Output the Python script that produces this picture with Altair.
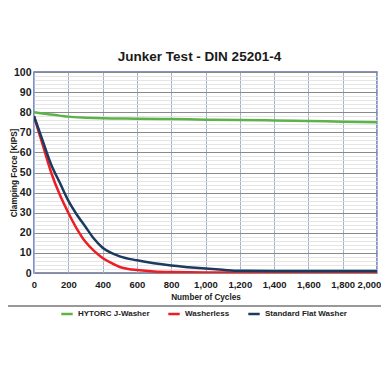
import altair as alt
import pandas as pd

series_names = ["HYTORC J-Washer", "Washerless", "Standard Flat Washer"]
series_colors = ["#5cb346", "#ee1c24", "#1b3a5e"]

green_x = [0, 50, 100, 150, 200, 300, 400, 600, 800, 1000, 1200, 1400, 1600, 1800, 2000]
green_y = [80, 79.3, 78.8, 78.3, 77.8, 77.3, 77.0, 76.8, 76.6, 76.3, 76.1, 75.9, 75.6, 75.3, 75.0]

red_x = [0, 25, 50, 100, 150, 200, 250, 300, 350, 400, 450, 500, 550, 600, 700, 800, 1000, 1200, 2000]
red_y = [78, 71, 64, 50, 39, 30, 22, 15.5, 11, 7.5, 5, 3, 2, 1.5, 0.8, 0.5, 0.3, 0.3, 0.3]

blue_x = [0, 25, 50, 100, 150, 200, 250, 300, 350, 400, 450, 500, 600, 700, 800, 900, 1000, 1100, 1200, 1400, 2000]
blue_y = [78, 72, 66, 54, 45, 36, 29, 23, 17, 12.6, 10, 8.3, 6.3, 4.8, 3.7, 2.9, 2.2, 1.6, 1.1, 1.0, 1.0]

rows = []
for name, xs, ys in zip(series_names, [green_x, red_x, blue_x], [green_y, red_y, blue_y]):
    for x, y in zip(xs, ys):
        rows.append({"series": name, "cycles": x, "force": y})
df = pd.DataFrame(rows)

x_ticks = list(range(0, 2001, 200))
y_ticks = list(range(0, 101, 2))

FONT = "Liberation Sans, Arial, sans-serif"

lines = alt.Chart(df).mark_line(strokeWidth=2.5, interpolate="monotone", clip=True).encode(
    x=alt.X("cycles:Q", scale=alt.Scale(domain=[0, 2000], nice=False),
            axis=alt.Axis(values=x_ticks, format=",d", title="Number of Cycles",
                          labelOverlap=False, labelFlush=False, labelFontSize=9.5,
                          labelOffset={"condition": {"test": "datum.value == 2000", "value": -8}, "value": 0},
                          gridColor="#a3b3cf", gridWidth=1, tickSize=0, labelPadding=6,
                          domain=False, titlePadding=5)),
    y=alt.Y("force:Q", scale=alt.Scale(domain=[0, 100], nice=False),
            axis=alt.Axis(values=y_ticks, title="Clamping Force [KIPS]",
                          labelExpr="datum.value % 10 == 0 ? datum.label : ''",
                          labelOverlap=False,
                          gridColor={"condition": {"test": "datum.value % 10 == 0", "value": "#8a8a8a"}, "value": "#dedede"},
                          gridWidth={"condition": {"test": "datum.value % 10 == 0", "value": 1.2}, "value": 0.8},
                          tickSize=0, labelPadding=3, domain=False,
                          titleX=-20, titleY=100.5, titleBaseline="middle", titleAngle=270)),
    color=alt.Color("series:N",
                    scale=alt.Scale(domain=series_names, range=series_colors),
                    legend=alt.Legend(title=None, orient="none", direction="horizontal",
                                      legendX=26, legendY=235, symbolType="stroke",
                                      symbolSize=130, symbolStrokeWidth=2.5,
                                      columnPadding=13, labelOffset=4,
                                      labelFont=FONT,
                                      labelFontSize=8, labelFontWeight="bold",
                                      labelColor="#222")),
)

sep = alt.Chart(pd.DataFrame({"v": [0]})).mark_rule(color="#777777", strokeWidth=1.5, clip=False).encode(
    x=alt.value(-34), x2=alt.value(355), y=alt.value(234)
)

chart = alt.layer(lines, sep).properties(
    width=343, height=201,
    title=alt.TitleParams("Junker Test - DIN 25201-4", fontSize=13.5, fontWeight="bold",
                          font=FONT, color="#1a1a1a", offset=0, dy=-4, dx=-6),
    autosize=alt.AutoSizeParams(type="none"),
    padding={"left": 26, "top": 64, "right": 4, "bottom": 85},
).configure_view(
    stroke="#5b6eb5", strokeWidth=1.5
).configure_axis(
    labelFont=FONT, labelFontSize=10.5, labelFontWeight="bold", labelColor="#1a1a1a",
    titleFont=FONT, titleFontSize=8.2, titleFontWeight="bold", titleColor="#1a1a1a"
)

chart.save("out.html", embed_options={"renderer": "svg", "actions": False})
